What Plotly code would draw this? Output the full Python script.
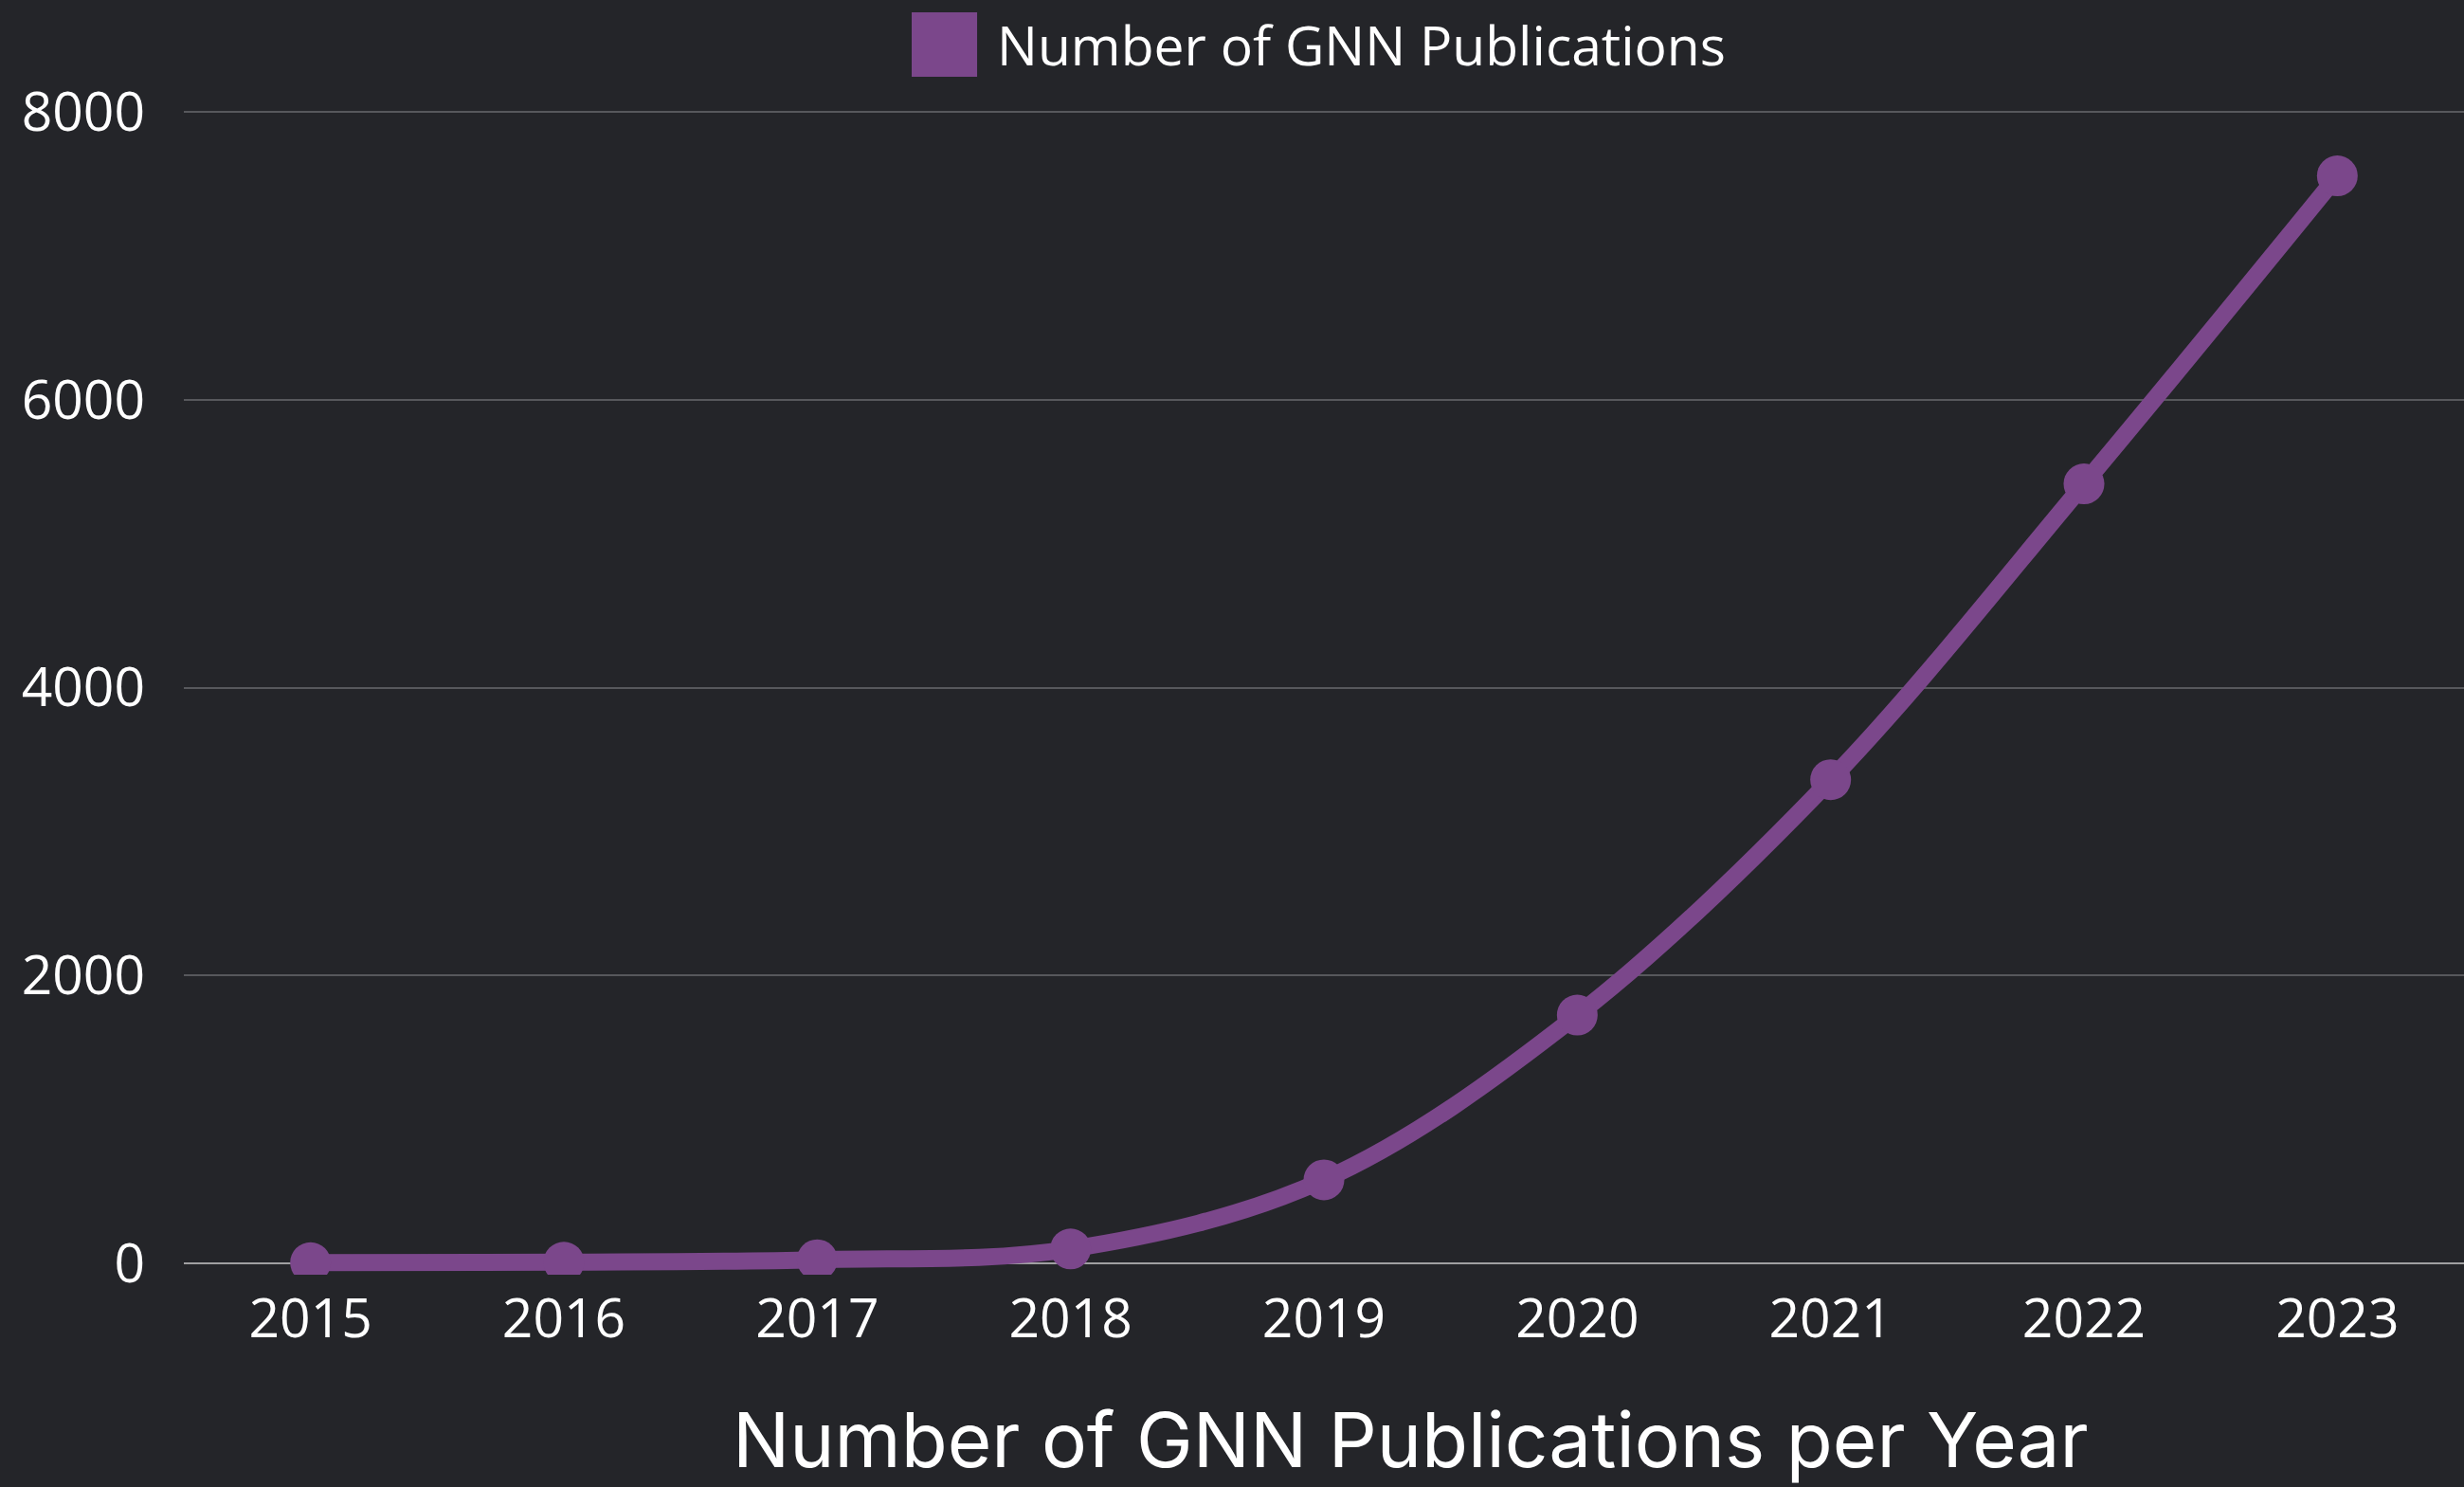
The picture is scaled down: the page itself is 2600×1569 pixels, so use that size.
import plotly.graph_objects as go

# data
years = [2015, 2016, 2017, 2018, 2019, 2020, 2021, 2022, 2023]
publications = [5, 8, 25, 100, 580, 1725, 3360, 5415, 7555]
y_ticks = [0, 2000, 4000, 6000, 8000]

series_name = 'Number of GNN Publications'
chart_title = 'Number of GNN Publications per Year'

purple = '#7B478B'
bg = '#242529'

fig = go.Figure()
fig.add_trace(go.Scatter(x=years, y=publications, name=series_name,
                         mode='lines+markers',
                         line=dict(color=purple, width=18, shape='spline', smoothing=1),
                         marker=dict(color=purple, size=43, line=dict(width=0)),
                         showlegend=False))

fig.update_layout(width=2600, height=1569,
                  paper_bgcolor=bg, plot_bgcolor=bg,
                  margin=dict(l=194, r=0, t=100, b=224),
                  font=dict(family='Open Sans', color='white', size=57))

fig.update_xaxes(range=[2014.5, 2023.5], tickmode='array', tickvals=years,
                 ticktext=[str(y) for y in years], showgrid=False,
                 zeroline=False, showline=False, ticks='', ticklabelstandoff=8)
fig.update_yaxes(range=[-79, 8118.5], tickmode='array', tickvals=y_ticks,
                 showgrid=True, gridcolor='#57585c', gridwidth=2,
                 zeroline=True, zerolinecolor='#a0a0a2', zerolinewidth=2,
                 showline=False, ticks='', ticklabelstandoff=40)

# legend drawn by hand (native legend symbols are too small)
fig.add_shape(type='rect', xref='paper', yref='paper',
              x0=0.3192, x1=0.3479, y0=1.0153, y1=1.0699,
              fillcolor=purple, line=dict(width=0))
fig.add_annotation(text=series_name, xref='paper', yref='paper',
                   x=0.3558, y=1.0426, xanchor='left', yanchor='middle',
                   showarrow=False, font=dict(size=57, color='white'))

fig.add_annotation(text=chart_title, xref='paper', yref='paper',
                   x=0.538, y=-0.139, xanchor='center', yanchor='middle',
                   showarrow=False, font=dict(family='Inter', size=80, color='white'))

# page has a default body margin; drop it so the chart fills the window
fig.write_html('out.html', config={'displayModeBar': False},
               post_script="document.body.style.margin='0';")
